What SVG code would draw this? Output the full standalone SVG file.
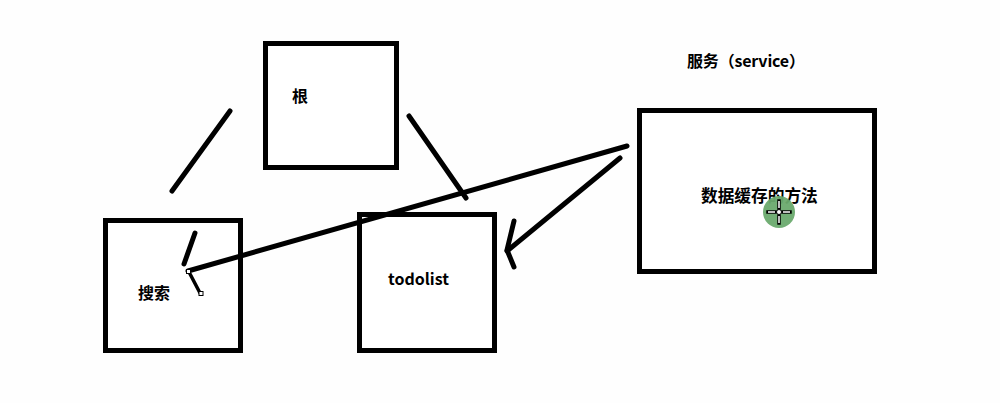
<svg xmlns="http://www.w3.org/2000/svg" width="1000" height="403" viewBox="0 0 1000 403">
  <style>
    .box { fill: #ffffff; stroke: #000000; stroke-width: 5; }
    .lbl { font-family: "Noto Sans CJK SC", "Liberation Sans", sans-serif; font-weight: bold; font-size: 16px; fill: #000000; }
    .stroke { fill: none; stroke: #000000; stroke-width: 5; stroke-linecap: round; stroke-linejoin: round; }
  </style>
  <rect x="0" y="0" width="1000" height="403" fill="#fefefe"/>

  <g id="title">
    <text class="lbl" x="687" y="67" textLength="118" lengthAdjust="spacing">服务（service）</text>
  </g>

  <g id="node-root">
    <rect class="box" x="265.5" y="43.5" width="131" height="124"/>
    <text class="lbl" x="292" y="102">根</text>
  </g>

  <g id="node-search">
    <rect class="box" x="105.5" y="220.5" width="135" height="130"/>
    <text class="lbl" x="138" y="299">搜索</text>
  </g>

  <g id="node-todolist">
    <rect class="box" x="359.5" y="214.5" width="135" height="136"/>
    <text class="lbl" x="388" y="285">todolist</text>
  </g>

  <g id="node-service">
    <rect class="box" x="639.5" y="110.5" width="235" height="161"/>
    <text class="lbl" x="701" y="202" style="font-size:16.7px">数据缓存的方法</text>
  </g>

  <g id="connectors">
    <line class="stroke" x1="230" y1="111" x2="172" y2="191"/>
    <line class="stroke" x1="409" y1="116" x2="466" y2="198"/>
    <line class="stroke" x1="627" y1="146" x2="188" y2="271"/>
    <line class="stroke" x1="195" y1="233" x2="184" y2="264"/>
    <line class="stroke" x1="620" y1="158" x2="507" y2="251"/>
    <polyline class="stroke" points="514,221 507,250 514,267"/>
  </g>

  <g id="cursor-marks">
    <line x1="189" y1="272" x2="200" y2="293" stroke="#000" stroke-width="3.5" stroke-linecap="round"/>
    <rect x="186.5" y="269.5" width="4" height="4" fill="#fff" stroke="#000" stroke-width="1"/>
    <rect x="199" y="291.5" width="4" height="4" fill="#fff" stroke="#000" stroke-width="1"/>
  </g>

  <g id="pointer">
    <circle cx="779" cy="212" r="16" fill="#6aaa6e" opacity="0.95"/>
    <g stroke="#000" stroke-width="3.5" stroke-linecap="square">
      <line x1="779" y1="201" x2="779" y2="208"/>
      <line x1="779" y1="216" x2="779" y2="223"/>
      <line x1="768" y1="212" x2="775" y2="212"/>
      <line x1="783" y1="212" x2="790" y2="212"/>
    </g>
    <g stroke="#fff" stroke-width="1.5">
      <line x1="779" y1="201" x2="779" y2="208"/>
      <line x1="779" y1="216" x2="779" y2="223"/>
      <line x1="768" y1="212" x2="775" y2="212"/>
      <line x1="783" y1="212" x2="790" y2="212"/>
    </g>
    <circle cx="779" cy="212" r="2.5" fill="#fff" stroke="#000" stroke-width="1"/>
  </g>
</svg>
